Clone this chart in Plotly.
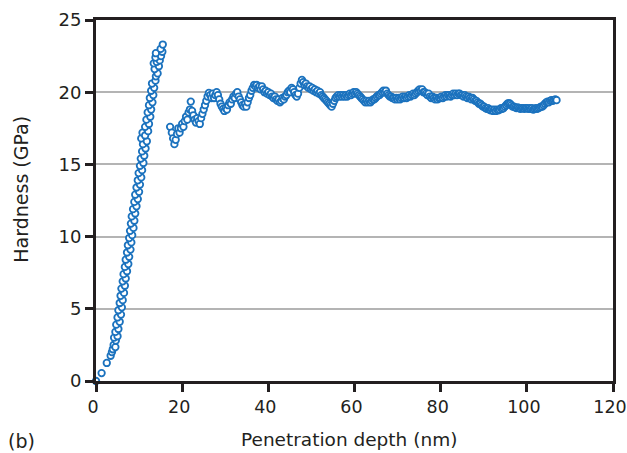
import plotly.graph_objects as go

# Loading branch (shallow indentation, hardness rises steeply with depth)
depth_loading = [
    0.0, 1.3, 2.5, 3.4, 3.7, 3.9, 4.1, 4.5, 4.6, 4.2, 5.0, 4.5, 5.2, 4.7, 5.5, 5.0,
    5.8, 5.2, 6.0, 5.5, 6.2, 5.7, 6.5, 5.9, 6.7, 6.2, 6.9, 6.4, 7.2, 6.7, 7.5, 6.9,
    7.7, 7.2, 8.0, 7.4, 8.2, 7.7, 8.4, 7.9, 8.7, 8.1, 8.9, 8.3, 9.1, 8.6, 9.4, 8.9,
    9.7, 9.1, 10.0, 9.4, 10.2, 9.7, 10.5, 9.9, 10.7, 10.2, 11.0, 10.4, 11.2, 10.7,
    11.5, 10.9, 10.5, 11.8, 10.8, 11.4, 12.1, 11.4, 12.3, 11.7, 12.6, 12.0, 12.8,
    12.3, 13.1, 12.5, 13.3, 12.8, 13.5, 13.0, 13.8, 13.9, 14.3, 13.6, 14.6, 13.4,
    14.1, 14.8, 13.8, 15.1, 13.9, 15.4, 15.0, 15.5,
]
hardness_loading = [
    0.0, 0.55, 1.25, 1.75, 2.0, 2.2, 2.5, 2.35, 2.8, 3.0, 3.1, 3.4, 3.6, 3.9, 4.1, 4.4,
    4.6, 4.9, 5.1, 5.4, 5.6, 5.9, 6.1, 6.4, 6.6, 6.9, 7.1, 7.4, 7.6, 7.9, 8.1, 8.4,
    8.6, 8.9, 9.1, 9.4, 9.6, 9.9, 10.1, 10.4, 10.6, 10.9, 11.1, 11.4, 11.6, 11.9, 12.1, 12.4,
    12.6, 12.9, 13.1, 13.4, 13.6, 13.9, 14.1, 14.4, 14.6, 14.9, 15.1, 15.4, 15.6, 15.9,
    16.1, 16.4, 16.8, 16.6, 17.2, 17.0, 17.3, 17.6, 17.8, 18.1, 18.3, 18.6, 18.8,
    19.1, 19.3, 19.6, 19.8, 20.1, 20.3, 20.6, 20.8, 21.1, 21.3, 21.6, 21.8, 22.0,
    22.1, 22.2, 22.4, 22.5, 22.7, 22.8, 23.0, 23.3,
]

# Plateau branch after the pop-in (17 nm onwards)
depth_plateau = [
    17.2, 17.6, 17.9, 18.2, 18.5, 18.8, 19.1, 19.4, 19.7, 20.0, 20.3, 20.6, 20.9, 21.2, 21.5, 21.8,
    22.0, 22.3, 22.6, 22.9, 23.2, 23.5, 23.8, 24.1, 24.4, 24.7, 25.0, 25.3, 25.6, 25.9, 26.2, 26.5,
    26.8, 27.1, 27.4, 27.7, 28.0, 28.3, 28.6, 28.9, 29.2, 29.5, 29.8, 30.1, 30.4, 30.7, 31.0, 31.3,
    31.6, 31.9, 32.2, 32.5, 32.8, 33.1, 33.4, 33.7, 34.0, 34.3, 34.6, 34.9, 35.2, 35.5, 35.8, 36.1,
    36.4, 36.7, 37.0, 37.3, 37.6, 37.9, 38.2, 38.5, 38.8, 39.1, 39.4, 39.7, 40.0, 40.3, 40.6, 40.9,
    41.2, 41.5, 41.8, 42.1, 42.4, 42.7, 43.0, 43.3, 43.6, 43.9, 44.2, 44.5, 44.8, 45.1, 45.4, 45.7,
    46.0, 46.3, 46.6, 46.9, 47.2, 47.5, 47.8, 48.1, 48.4, 48.7, 49.0, 49.3, 49.6, 49.9, 50.2, 50.5,
    50.8, 51.1, 51.4, 51.7, 52.0, 52.3, 52.6, 52.9, 53.2, 53.5, 53.8, 54.1, 54.4, 54.7, 55.0, 55.3,
    55.6, 55.9, 56.2, 56.5, 56.8, 57.1, 57.4, 57.7, 58.0, 58.3, 58.6, 58.9, 59.2, 59.5, 59.8, 60.1,
    60.4, 60.7, 61.0, 61.3, 61.6, 61.9, 62.2, 62.5, 62.8, 63.1, 63.4, 63.7, 64.0, 64.3, 64.6, 64.9,
    65.2, 65.5, 65.8, 66.1, 66.4, 66.7, 67.0, 67.3, 67.6, 67.9, 68.2, 68.5, 68.8, 69.1, 69.4, 69.7,
    70.0, 70.3, 70.6, 70.9, 71.2, 71.5, 71.8, 72.1, 72.4, 72.7, 73.0, 73.3, 73.6, 73.9, 74.2, 74.5,
    74.8, 75.1, 75.4, 75.7, 76.0, 76.3, 76.6, 76.9, 77.2, 77.5, 77.8, 78.1, 78.4, 78.7, 79.0, 79.3,
    79.6, 79.9, 80.2, 80.5, 80.8, 81.1, 81.4, 81.7, 82.0, 82.3, 82.6, 82.9, 83.2, 83.5, 83.8, 84.1,
    84.4, 84.7, 85.0, 85.3, 85.6, 85.9, 86.2, 86.5, 86.8, 87.1, 87.4, 87.7, 88.0, 88.3, 88.6, 88.9,
    89.2, 89.5, 89.8, 90.1, 90.4, 90.7, 91.0, 91.3, 91.6, 91.9, 92.2, 92.5, 92.8, 93.1, 93.4, 93.7,
    94.0, 94.3, 94.6, 94.9, 95.2, 95.5, 95.8, 96.1, 96.4, 96.7, 97.0, 97.3, 97.6, 97.9, 98.2, 98.5,
    98.8, 99.1, 99.4, 99.7, 100.0, 100.3, 100.6, 100.9, 101.2, 101.5, 101.8, 102.1, 102.4, 102.7,
    103.0, 103.3, 103.6, 103.9, 104.2, 104.5, 104.8, 105.1, 105.4, 105.7, 106.0, 106.3, 106.6, 106.9,
]
hardness_plateau = [
    17.6, 17.2, 16.8, 16.4, 16.7, 17.1, 17.5, 17.2, 17.5, 17.8, 17.6, 18.0, 18.3, 18.1, 18.6, 18.8,
    19.35, 18.7, 18.4, 18.1, 17.9, 18.2, 18.0, 17.8, 18.2, 18.5, 18.8, 19.1, 19.4, 19.7, 19.95, 19.8,
    19.6, 19.9, 19.6, 19.8, 20.0, 19.8, 19.5, 19.2, 19.0, 18.85, 18.7, 18.9, 18.8, 19.1, 19.3, 19.2,
    19.5, 19.7, 19.6, 19.9, 20.0, 19.7, 19.5, 19.3, 19.1, 19.0, 19.2, 19.0, 19.3, 19.6, 19.8, 20.1,
    20.3, 20.5, 20.4, 20.5, 20.3, 20.4, 20.2, 20.4, 20.2, 20.0, 20.1, 19.9, 20.0, 19.8, 19.9, 19.7,
    19.6, 19.7, 19.5, 19.4, 19.5, 19.3, 19.4, 19.6, 19.5, 19.7, 19.8, 20.0, 20.1, 20.0, 20.3, 20.2,
    20.0, 19.8, 19.7, 19.9, 20.3, 20.6, 20.85, 20.7, 20.5, 20.6, 20.4, 20.3, 20.4, 20.2, 20.3, 20.1,
    20.2, 20.0, 20.1, 19.9, 20.0, 19.8, 19.7, 19.6, 19.5, 19.4, 19.3, 19.2, 19.1, 19.0, 19.2, 19.4,
    19.6, 19.7, 19.8, 19.7, 19.8, 19.7, 19.8, 19.7, 19.8, 19.7, 19.8, 19.9, 19.8, 19.9, 20.0, 19.9,
    20.0, 19.9, 19.8, 19.7, 19.6, 19.5, 19.4, 19.3, 19.4, 19.3, 19.4, 19.3, 19.4, 19.5, 19.5, 19.6,
    19.7, 19.8, 19.8, 19.9, 20.0, 20.1, 20.0, 20.1, 19.9, 19.8, 19.7, 19.7, 19.6, 19.6, 19.5, 19.6,
    19.5, 19.6, 19.5, 19.6, 19.7, 19.6, 19.7, 19.6, 19.7, 19.8, 19.7, 19.8, 19.9, 19.8, 19.9, 20.0,
    20.1, 20.2, 20.1, 20.2, 20.0, 20.0, 19.9, 19.8, 19.9, 19.7, 19.6, 19.7, 19.6, 19.5, 19.6, 19.5,
    19.6, 19.6, 19.7, 19.6, 19.7, 19.8, 19.7, 19.8, 19.8, 19.7, 19.8, 19.9, 19.8, 19.9, 19.8, 19.9,
    19.9, 19.8, 19.8, 19.7, 19.8, 19.7, 19.6, 19.7, 19.6, 19.5, 19.6, 19.5, 19.4, 19.4, 19.3, 19.2,
    19.2, 19.1, 19.0, 19.0, 18.9, 18.85, 18.9, 18.8, 18.75, 18.8, 18.7, 18.8, 18.7, 18.8, 18.75, 18.8,
    18.9, 18.85, 18.9, 19.0, 19.1, 19.2, 19.25, 19.2, 19.1, 19.0, 19.0, 18.95, 18.9, 18.95, 18.9, 18.85,
    18.9, 18.9, 18.85, 18.9, 18.9, 18.85, 18.9, 18.85, 18.9, 18.8, 18.85, 18.9, 18.85, 18.9,
    18.95, 19.0, 19.0, 19.1, 19.2, 19.3, 19.35, 19.3, 19.4, 19.45, 19.4, 19.45, 19.5, 19.45,
]

x_ticks = [0, 20, 40, 60, 80, 100, 120]
y_ticks = [0, 5, 10, 15, 20, 25]

BLUE = "#1b72be"
AXIS = "#231f20"
FONT = "DejaVu Sans"

fig = go.Figure()
fig.add_trace(go.Scatter(
    x=depth_loading + depth_plateau,
    y=hardness_loading + hardness_plateau,
    mode="markers",
    marker=dict(symbol="circle", size=6.5, color="white",
                line=dict(color=BLUE, width=1.8)),
    cliponaxis=False,
    showlegend=False,
))

axis_common = dict(
    showline=True, linecolor=AXIS, linewidth=3, mirror=True,
    ticks="outside", ticklen=8, tickwidth=3, tickcolor=AXIS,
    ticklabeloverflow="allow", automargin=False,
    zeroline=False,
)

fig.update_xaxes(range=[0, 120], tickvals=x_ticks, showgrid=False,
                 tickfont=dict(family=FONT, size=17.5, color=AXIS),
                 ticklabelshift=-3, **axis_common)
fig.update_yaxes(range=[0, 25], tickvals=y_ticks, showgrid=True,
                 tickfont=dict(family=FONT, size=18, color=AXIS),
                 gridcolor="#b4b4b4", gridwidth=1.5, **axis_common)

fig.update_layout(
    width=627, height=453,
    margin=dict(l=96, r=14, t=20, b=72),
    paper_bgcolor="white", plot_bgcolor="white",
    annotations=[
        dict(text="Penetration depth (nm)", xref="paper", yref="paper",
             x=0.49, y=-0.163, xanchor="center", yanchor="middle",
             showarrow=False, font=dict(family=FONT, size=18.5, color=AXIS)),
        dict(text="Hardness (GPa)", xref="paper", yref="paper",
             x=-0.145, y=0.53, xanchor="center", yanchor="middle", textangle=-90,
             showarrow=False, font=dict(family=FONT, size=19, color=AXIS)),
        dict(text="(b)", xref="paper", yref="paper",
             x=-0.145, y=-0.166, xanchor="center", yanchor="middle",
             showarrow=False, font=dict(family=FONT, size=19, color=AXIS)),
    ],
)

fig.write_html("out.html")
